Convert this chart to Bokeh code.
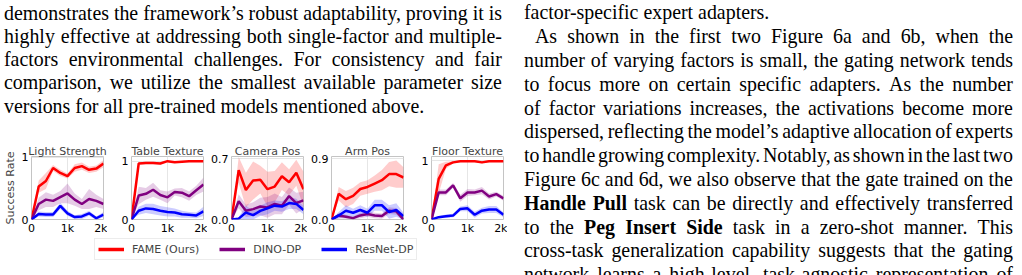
from bokeh.plotting import figure
from bokeh.layouts import row, column
from bokeh.models import (Div, FixedTicker, NumeralTickFormatter, PrintfTickFormatter,
                          Range1d, Legend, LegendItem, ColumnDataSource)
from bokeh.embed import file_html
from bokeh.resources import INLINE

# ---------------- data ----------------
steps = [0, 200, 400, 600, 800, 1000, 1200, 1400, 1600, 1800, 2000]
x_ticks = [0, 1000, 2000]
methods = ["FAME (Ours)", "DINO-DP", "ResNet-DP"]
colors = ["#ff0000", "#800080", "#0000ff"]

titles = ["Light Strength", "Table Texture", "Camera Pos", "Arm Pos", "Floor Texture"]
y_top_tick = [1, 1, 0.7, 0.9, 1]
y_limit = [1.015, 1.08, 0.727, 0.93, 1.07]

light_fame = [0, 0.53, 0.62, 0.83, 0.75, 0.70, 0.83, 0.86, 0.80, 0.82, 0.90]
light_fame_sd = [0, 0.10, 0.13, 0.05, 0.05, 0.04, 0.06, 0.06, 0.05, 0.05, 0.06]
light_dino = [0, 0.25, 0.32, 0.30, 0.36, 0.42, 0.32, 0.25, 0.33, 0.30, 0.25]
light_dino_sd = [0, 0.10, 0.12, 0.10, 0.10, 0.16, 0.10, 0.08, 0.16, 0.10, 0.08]
light_resnet = [0, 0.09, 0.08, 0.08, 0.22, 0.10, 0.04, 0.05, 0.10, 0.02, 0.08]
light_resnet_sd = [0, 0.04, 0.04, 0.04, 0.05, 0.04, 0.03, 0.04, 0.04, 0.03, 0.04]

table_fame = [0, 0.96, 0.97, 0.97, 0.96, 1.0, 0.98, 0.99, 1.0, 1.0, 1.0]
table_fame_sd = [0, 0.02, 0.02, 0.02, 0.02, 0.01, 0.01, 0.01, 0.0, 0.0, 0.0]
table_dino = [0, 0.41, 0.44, 0.51, 0.42, 0.38, 0.47, 0.46, 0.40, 0.50, 0.60]
table_dino_sd = [0, 0.15, 0.10, 0.12, 0.08, 0.10, 0.06, 0.08, 0.08, 0.08, 0.12]
table_resnet = [0, 0.15, 0.19, 0.18, 0.15, 0.13, 0.12, 0.09, 0.08, 0.07, 0.14]
table_resnet_sd = [0, 0.07, 0.08, 0.09, 0.08, 0.08, 0.07, 0.06, 0.05, 0.05, 0.08]

camera_fame = [0, 0.57, 0.34, 0.45, 0.46, 0.35, 0.38, 0.50, 0.43, 0.54, 0.35]
camera_fame_sd = [0, 0.15, 0.20, 0.22, 0.16, 0.20, 0.18, 0.16, 0.15, 0.15, 0.20]
camera_dino = [0, 0.21, 0.10, 0.12, 0.15, 0.14, 0.18, 0.16, 0.27, 0.19, 0.22]
camera_dino_sd = [0, 0.08, 0.07, 0.08, 0.10, 0.12, 0.12, 0.10, 0.10, 0.12, 0.10]
camera_resnet = [0, 0.01, 0.08, 0.05, 0.10, 0.13, 0.16, 0.15, 0.19, 0.18, 0.11]
camera_resnet_sd = [0, 0.02, 0.08, 0.05, 0.06, 0.07, 0.06, 0.06, 0.07, 0.06, 0.05]

arm_fame = [0, 0.38, 0.30, 0.35, 0.45, 0.48, 0.53, 0.58, 0.67, 0.67, 0.62]
arm_fame_sd = [0, 0.10, 0.12, 0.12, 0.10, 0.10, 0.12, 0.15, 0.18, 0.20, 0.15]
arm_dino = [0, 0.06, 0.04, 0.02, 0.06, 0.08, 0.06, 0.05, 0.13, 0.12, 0.0]
arm_dino_sd = [0, 0.04, 0.03, 0.02, 0.04, 0.04, 0.04, 0.04, 0.05, 0.05, 0.02]
arm_resnet = [0, 0.06, 0.13, 0.10, 0.14, 0.10, 0.21, 0.21, 0.11, 0.14, 0.05]
arm_resnet_sd = [0, 0.05, 0.08, 0.06, 0.07, 0.06, 0.08, 0.08, 0.10, 0.10, 0.05]

floor_fame = [0, 0.69, 0.92, 0.97, 0.99, 0.99, 0.99, 0.97, 0.99, 0.99, 0.99]
floor_fame_sd = [0, 0.25, 0.06, 0.02, 0.01, 0.01, 0.01, 0.02, 0.01, 0.01, 0.01]
floor_dino = [0, 0.46, 0.46, 0.58, 0.36, 0.46, 0.46, 0.49, 0.39, 0.43, 0.36]
floor_dino_sd = [0, 0.05, 0.05, 0.04, 0.06, 0.06, 0.05, 0.06, 0.05, 0.04, 0.04]
floor_resnet = [0, 0.04, 0.055, 0.067, 0.18, 0.19, 0.08, 0.15, 0.17, 0.17, 0.08]
floor_resnet_sd = [0, 0.02, 0.03, 0.03, 0.04, 0.05, 0.05, 0.05, 0.06, 0.06, 0.04]

panels = [
    [(light_fame, light_fame_sd), (light_dino, light_dino_sd), (light_resnet, light_resnet_sd)],
    [(table_fame, table_fame_sd), (table_dino, table_dino_sd), (table_resnet, table_resnet_sd)],
    [(camera_fame, camera_fame_sd), (camera_dino, camera_dino_sd), (camera_resnet, camera_resnet_sd)],
    [(arm_fame, arm_fame_sd), (arm_dino, arm_dino_sd), (arm_resnet, arm_resnet_sd)],
    [(floor_fame, floor_fame_sd), (floor_dino, floor_dino_sd), (floor_resnet, floor_resnet_sd)],
]

left_lines = [
    "demonstrates the framework’s robust adaptability, proving it is",
    "highly effective at addressing both single-factor and multiple-",
    "factors environmental challenges. For consistency and fair",
    "comparison, we utilize the smallest available parameter size",
    "versions for all pre-trained models mentioned above.",
]
left_last = [False, False, False, False, True]

right_lines = [
    "factor-specific expert adapters.",
    "As shown in the first two Figure 6a and 6b, when the",
    "number of varying factors is small, the gating network tends",
    "to focus more on certain specific adapters. As the number",
    "of factor variations increases, the activations become more",
    "dispersed, reflecting the model’s adaptive allocation of experts",
    "to handle growing complexity. Notably, as shown in the last two",
    "Figure 6c and 6d, we also observe that the gate trained on the",
    "**Handle** **Pull** task can be directly and effectively transferred",
    "to the **Peg** **Insert** **Side** task in a zero-shot manner. This",
    "cross-task generalization capability suggests that the gating",
    "network learns a high-level, task-agnostic representation of",
]
right_last = [True] + [False] * 11
right_indent = [0, 11] + [0] * 10

FONT = "'Liberation Serif', 'Times New Roman', serif"
FS = 19.9


def word_html(w):
    if w.startswith("**") and w.endswith("**"):
        return "<b>" + w[2:-2] + "</b>"
    return w


def build_text(lines, lasts, indents, lh, pad_top, width):
    out = [f'<div style="font-family:{FONT};font-size:{FS}px;line-height:{lh}px;color:#000;'
           f'padding-top:{pad_top}px;width:{width}px;margin:0;">']
    for line, last, ind in zip(lines, lasts, indents):
        words = [word_html(w) for w in line.split(" ")]
        if last:
            out.append(f'<div style="height:{lh}px;white-space:nowrap;padding-left:{ind}px;">'
                       + " ".join(words) + "</div>")
        else:
            out.append(f'<div style="height:{lh}px;white-space:nowrap;display:flex;'
                       f'justify-content:space-between;padding-left:{ind}px;">'
                       + "".join(f"<span>{w}</span>" for w in words) + "</div>")
    out.append("</div>")
    return "".join(out)


left_div = Div(text=build_text(left_lines, left_last, [0] * 5, 23.3, 1.6, 498),
               width=520, height=140, margin=0,
               styles={"padding-left": "4px", "overflow": "hidden"})
right_div = Div(text=build_text(right_lines, right_last, right_indent, 23.8, 1.4, 489),
                width=502, height=275, margin=0,
                styles={"padding-left": "4px", "overflow": "hidden"})

# ---------------- small charts ----------------
plots = []
for i in range(5):
    p = figure(frame_width=72, frame_height=63,
               x_range=Range1d(0, 2000), y_range=Range1d(0, y_limit[i]),
               output_backend="svg", toolbar_location=None,
               min_border_left=30 if i == 0 else 24, min_border_right=4,
               min_border_top=16, min_border_bottom=16,
               title=titles[i], background_fill_color="white", border_fill_color="white")
    p.title.text_font = "DejaVu Sans"
    p.title.text_font_size = "11px"
    p.title.text_font_style = "normal"
    p.title.align = "center"
    p.title.standoff = -3
    p.outline_line_color = "#c4c4c4"
    p.outline_line_width = 1

    p.xaxis.ticker = FixedTicker(ticks=x_ticks)
    p.xaxis.formatter = NumeralTickFormatter(format="0a")
    p.yaxis.ticker = FixedTicker(ticks=[0, y_top_tick[i]])
    if y_top_tick[i] < 1:
        p.yaxis.formatter = PrintfTickFormatter(format="%.1f")
    for ax in (p.xaxis[0], p.yaxis[0]):
        ax.axis_line_color = None
        ax.major_tick_out = 0
        ax.major_tick_in = 0
        ax.minor_tick_out = 0
        ax.minor_tick_in = 0
        ax.major_label_text_font = "DejaVu Sans"
        ax.major_label_text_font_size = "11px"
        ax.major_label_text_color = "#000000"
    p.xaxis.major_label_standoff = 2
    p.yaxis.major_label_standoff = 3
    if i == 0:
        p.yaxis.axis_label = "Success Rate"
        p.yaxis.axis_label_text_font = "DejaVu Sans"
        p.yaxis.axis_label_text_font_size = "11px"
        p.yaxis.axis_label_text_font_style = "normal"
        p.yaxis.axis_label_standoff = 2
    p.xgrid.grid_line_color = "#e6e6e6"
    p.ygrid.grid_line_color = "#e6e6e6"

    sources = []
    for (mean, sd), c in zip(panels[i], colors):
        src = ColumnDataSource(dict(x=steps, y=mean,
                                    lo=[m - s for m, s in zip(mean, sd)],
                                    hi=[m + s for m, s in zip(mean, sd)]))
        sources.append(src)
        p.varea(x="x", y1="lo", y2="hi", source=src, fill_color=c, fill_alpha=0.2)
    for src, c in zip(sources, colors):
        p.line(x="x", y="y", source=src, line_color=c, line_width=2.5)
    plots.append(p)

# ---------------- legend ----------------
lf = figure(width=520, height=40, output_backend="svg", toolbar_location=None,
            x_axis_location=None, y_axis_location=None, min_border=0,
            x_range=Range1d(0, 1), y_range=Range1d(0, 1),
            outline_line_color=None, background_fill_color="white", border_fill_color="white")
lf.xgrid.visible = False
lf.ygrid.visible = False
items = []
nan = float("nan")
for name, c in zip(methods, colors):
    r = lf.line(x=[nan], y=[nan], line_color=c, line_width=3.5)
    items.append(LegendItem(label=name, renderers=[r]))
legend = Legend(items=items, orientation="horizontal", location=(94, 17),
                label_text_font="DejaVu Sans", label_text_font_size="11px",
                glyph_width=26, glyph_height=14, label_height=14, label_standoff=8,
                spacing=20, padding=3, margin=0,
                border_line_color="#d9d9d9", border_line_width=1,
                background_fill_color="white", background_fill_alpha=1)
lf.add_layout(legend)

layout = row(column(left_div, row(*plots, spacing=0), lf, spacing=0), right_div, spacing=0)

open("out.html", "w").write(file_html(layout, INLINE))
